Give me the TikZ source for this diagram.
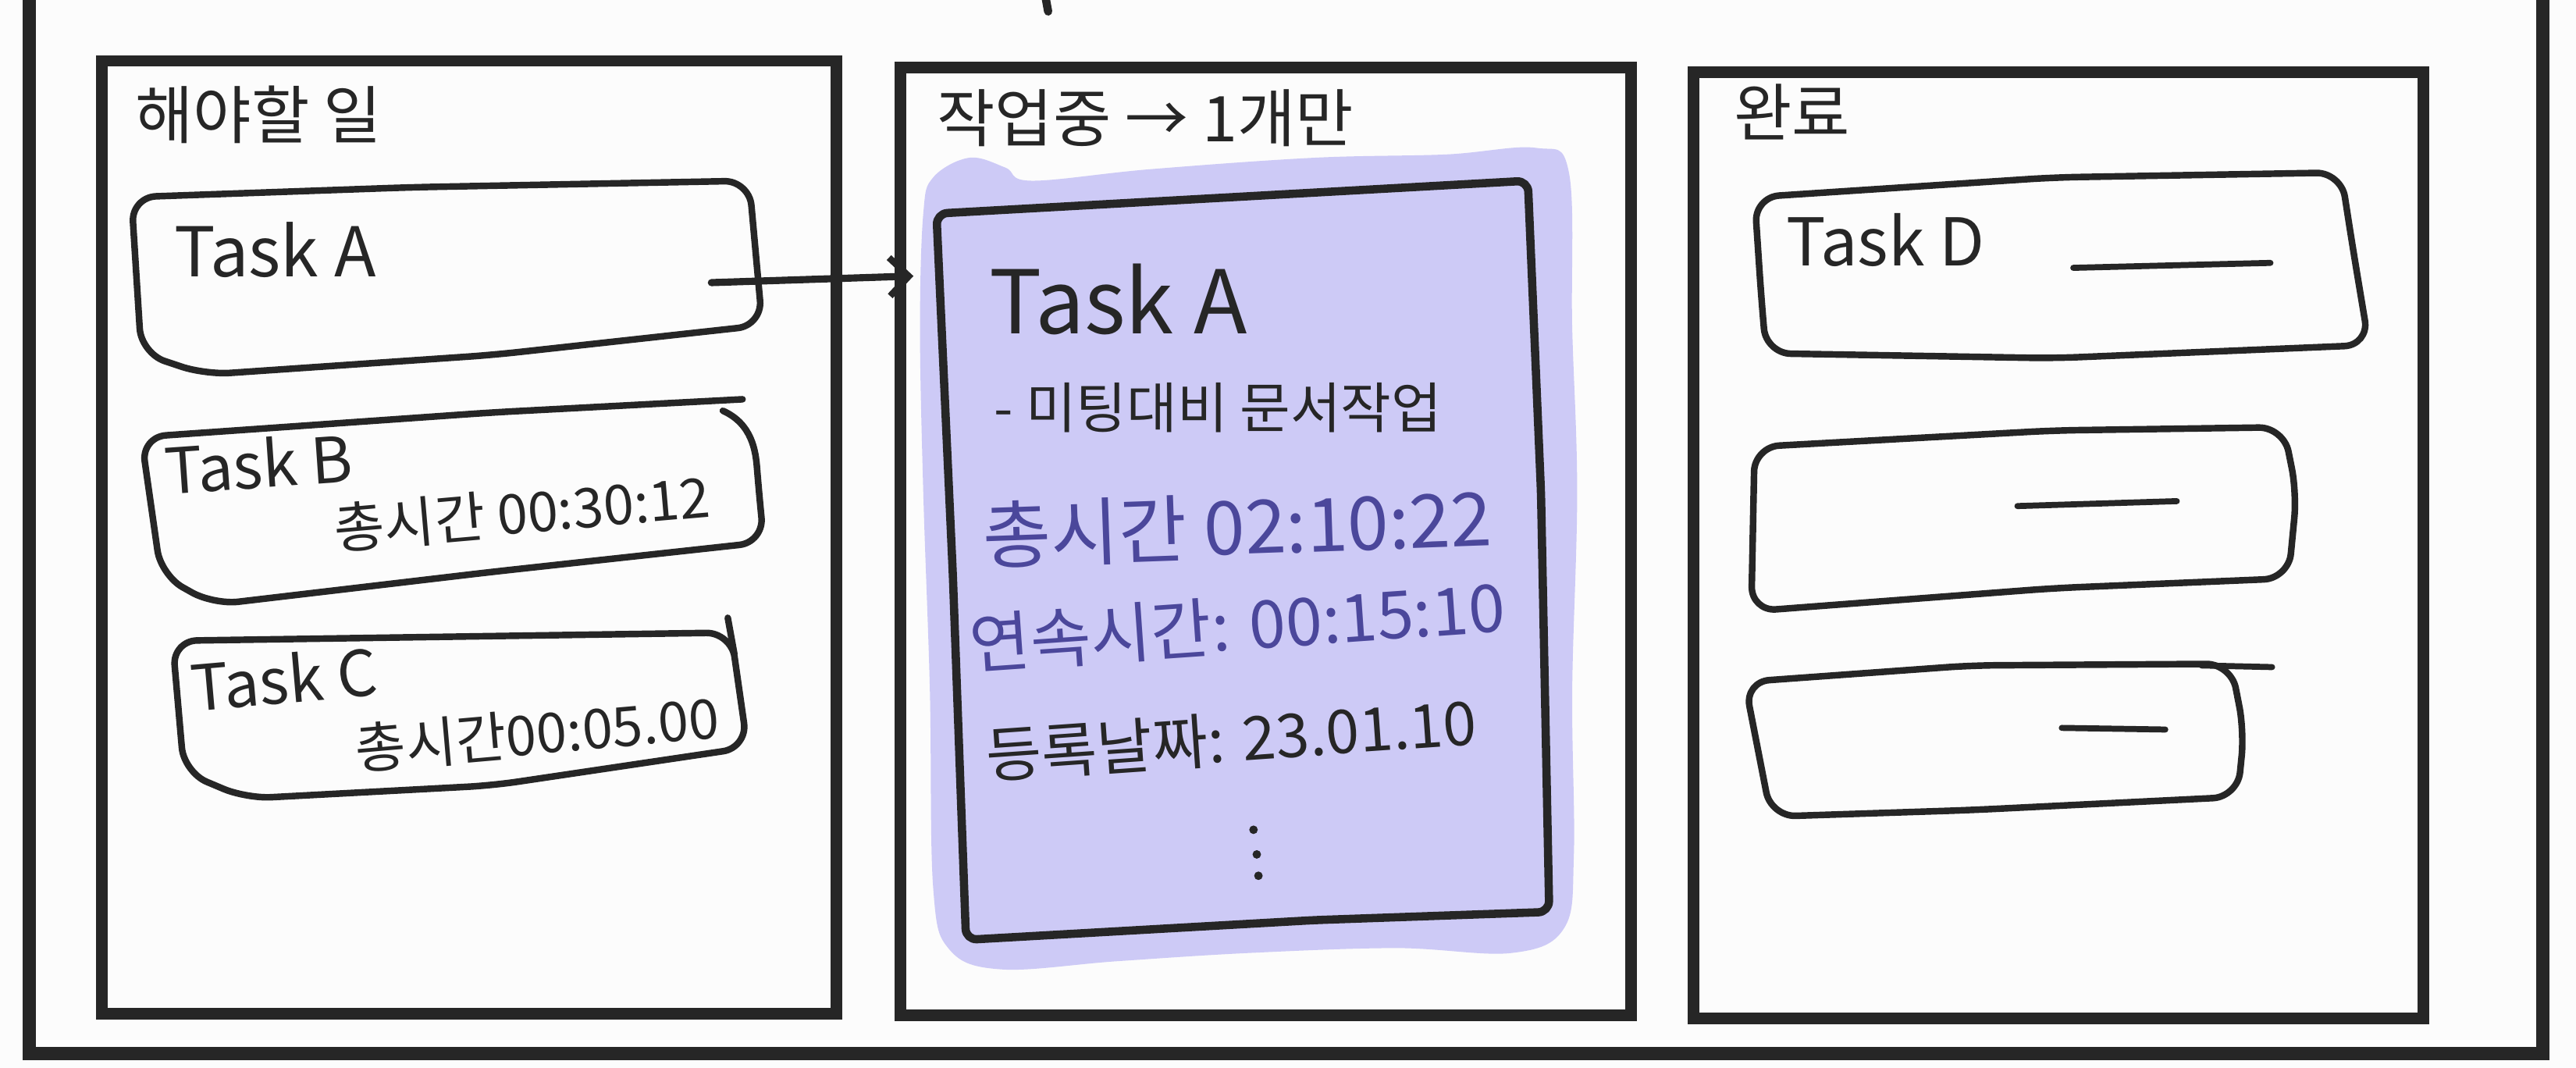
\documentclass[tikz,border=0pt]{standalone}
\usepackage{fontspec}
\setmainfont{Noto Sans CJK KR}
\usetikzlibrary{arrows.meta}
\definecolor{ink}{HTML}{262626}
\definecolor{lav}{HTML}{CDCAF6}
\definecolor{purpleink}{HTML}{4B479B}
\definecolor{paper}{HTML}{FCFCFC}

\begin{document}
\begin{tikzpicture}[x=0.21046mm, y=-0.21046mm,
  every node/.style={inner sep=0pt, anchor=west, text=ink},
  frame/.style={draw=ink, line width=4.2pt},
  handbox/.style={draw=ink, line width=2.4pt, rounded corners=9pt, line join=round, line cap=round},
  doneline/.style={draw=ink, line width=2.2pt, line cap=round},
  title/.style={font=\fontsize{23}{27}\selectfont},
  card/.style={font=\fontsize{25}{29}\selectfont},
  cardtime/.style={font=\fontsize{20}{24}\selectfont},
  info/.style={font=\fontsize{24}{28}\selectfont}]
  \fill[paper] (0,0) rectangle (1568,650);
  \clip (0,0) rectangle (1568,650);
  \useasboundingbox (0,0) rectangle (1568,650);

  % outer frame and the three columns
  \draw[frame, line width=4.8pt] (18,-30) rectangle (1548,641);
  \draw[line width=3pt, ink, line cap=round] (636,-4) -- (638,7);
  \draw[frame] (62,37) rectangle (509,617);
  \draw[frame] (548,41) rectangle (993,618);
  \draw[frame] (1031,44) rectangle (1475,620);

  \node[title] (todo) at (82,70) {해야할 일};
  \node[title] (doing) at (570,72) {작업중 → 1개만};
  \node[title] (done) at (1055,68) {완료};

  % to do
  \draw[handbox] (80,120) -- (250,114) -- (456,110) -- (464,198) -- (300,216) -- (125,228) -- (86,215) -- cycle;
  \node[card] (taskA) at (106,152) {Task A};
  \draw[handbox] (440,250) .. controls (458,258) and (460,275) .. (462,300) -- (465,330) -- (300,348) -- (130,368) -- (98,350) -- (86,266) -- (300,251) -- (452,243);
  \node[card, font=\fontsize{23}{27}\selectfont, rotate=4] (taskB) at (100,286) {Task B};
  \node[cardtime, rotate=5] (timeB) at (203,322) {총시간 00:30:12};
  \draw[handbox] (105,390) -- (445,385) -- (455,455) -- (300,478) -- (150,486) -- (112,470) -- cycle;
  \draw[doneline, line width=2.4pt] (443,376) -- (447,398);
  \node[card, font=\fontsize{23}{27}\selectfont, rotate=5] (taskC) at (116,418) {Task C};
  \node[cardtime, rotate=5] (timeC) at (216,456) {총시간00:05.00};

  % doing
  \fill[lav] plot[smooth cycle, tension=0.6] coordinates {(562,130) (568,108) (590,96) (612,102) (628,110) (700,103) (800,96) (880,94) (935,90) (955,105) (957,200) (960,300) (957,420) (958,520) (952,565) (920,580) (850,577) (760,580) (680,585) (610,590) (578,578) (568,540) (566,420) (562,300) (560,200)};
  \draw[handbox, line width=3pt, rounded corners=4pt] (570,130) -- (750,120) -- (930,110) -- (938,300) -- (943,555) -- (800,560) -- (588,572) -- (580,350) -- cycle;
  \node[font=\fontsize{32}{36}\selectfont] (curTask) at (602,182) {Task A};
  \node[font=\fontsize{20}{24}\selectfont] (curMemo) at (605,248) {- 미팅대비 문서작업};
  \node[info, text=purpleink, font=\fontsize{27}{31}\selectfont, rotate=2] (curTotal) at (598,326) {총시간 02:10:22};
  \node[info, text=purpleink, rotate=4] (curRun) at (590,392) {연속시간: 00:15:10};
  \node[info, font=\fontsize{22}{26}\selectfont, rotate=4] (curDate) at (600,460) {등록날짜: 23.01.10};
  \foreach \p in {(763,505), (765,520), (766,533)}
    \fill[ink] \p circle (2.6);

  \coordinate (aOut) at (433,172);
  \coordinate (bigIn) at (556,168);
  \draw[ink, line width=2.6pt, line cap=round, -{Straight Barb[length=7pt, width=14pt, line width=2.4pt]}] (aOut) -- (bigIn);

  % done
  \draw[handbox] (1068,120) -- (1250,108) -- (1425,105) -- (1432,150) -- (1442,210) -- (1250,218) -- (1075,215) -- (1072,180) -- cycle;
  \node[card, font=\fontsize{24}{28}\selectfont] (taskD) at (1087,146) {Task D};
  \draw[doneline] (1262,163) -- (1382,160);
  \draw[handbox] (1068,272) -- (1250,262) -- (1390,260) -- (1398,300) -- (1393,352) -- (1250,358) -- (1066,372) -- cycle;
  \draw[doneline] (1228,308) -- (1325,305);
  \draw[handbox] (1062,415) -- (1200,405) -- (1358,404) -- (1366,445) -- (1362,485) -- (1200,493) -- (1078,497) -- cycle;
  \draw[doneline] (1340,405) -- (1383,406);
  \draw[doneline] (1255,443) -- (1318,444);
\end{tikzpicture}
\end{document}
